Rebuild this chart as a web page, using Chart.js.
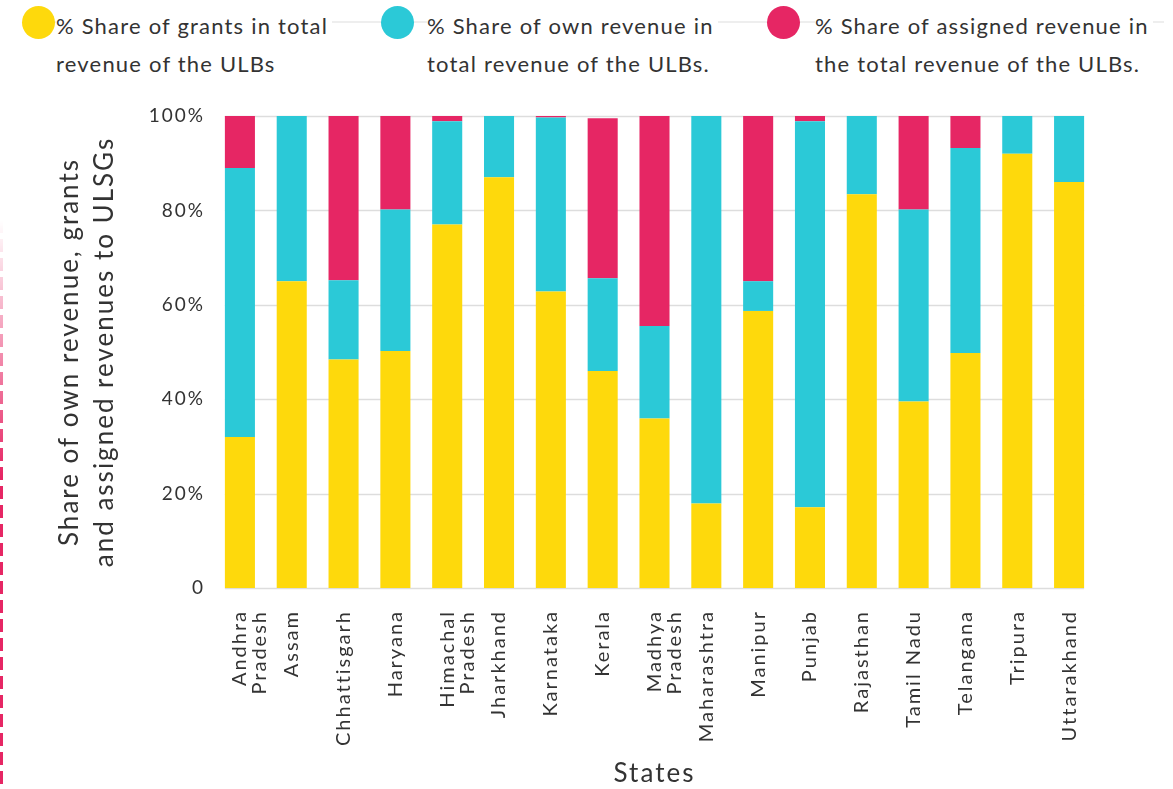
<!DOCTYPE html>
<html>
<head>
<meta charset="utf-8">
<script src="https://cdn.jsdelivr.net/npm/chart.js@4"></script>
<style>
  html, body { margin: 0; padding: 0; background: #fff; }
  body { width: 1173px; height: 789px; position: relative; overflow: hidden; font-family: Lato, sans-serif; color: #333; }
  #chart-wrap { position: absolute; left: 0; top: 0; width: 1173px; height: 789px; }
  .legend-line { position: absolute; left: 54px; top: 21px; width: 1110px; height: 2px; background: #eeeeee; }
  .legend-item { position: absolute; top: 0; }
  .legend-dot { position: absolute; width: 33px; height: 33px; border-radius: 50%; top: 6px; }
  .legend-text { position: absolute; top: 7px; font-size: 22px; line-height: 38px; letter-spacing: 1.2px; white-space: nowrap; background: #fff; padding-right: 4px; }
  .side-dash { position: absolute; left: 0; top: 220px; width: 3px; height: 569px;
    background: repeating-linear-gradient(to bottom, #e62664 0 13px, transparent 13px 19px);
    -webkit-mask-image: linear-gradient(to bottom, transparent, #000 45%);
    mask-image: linear-gradient(to bottom, transparent, #000 45%); }
</style>
</head>
<body>
<div class="side-dash"></div>
<div class="legend-line"></div>
<div id="legend"></div>
<div id="chart-wrap"><canvas id="revChart" width="1173" height="789"></canvas></div>
<script>
// Datos (porcentaje sobre el total de ingresos)
const states = [
    ['Andhra', 'Pradesh'], 'Assam', 'Chhattisgarh', 'Haryana', ['Himachal', 'Pradesh'],
    'Jharkhand', 'Karnataka', 'Kerala', ['Madhya', 'Pradesh'], 'Maharashtra', 'Manipur',
    'Punjab', 'Rajasthan', 'Tamil Nadu', 'Telangana', 'Tripura', 'Uttarakhand'
];
const grantsShare   = [32.0, 65.0, 48.4, 50.2, 77.0, 87.0, 62.8, 46.0, 35.9, 17.9, 58.7, 17.1, 83.4, 39.5, 49.8, 92.0, 86.0];
const ownShare      = [57.0, 35.0, 16.8, 30.0, 21.9, 13.0, 36.9, 19.6, 19.6, 82.1, 6.3, 81.8, 16.6, 40.7, 43.4, 8.0, 14.0];
const assignedShare = [11.0, 0, 34.8, 19.8, 1.1, 0, 0.3, 33.9, 44.5, 0, 35.0, 1.1, 0, 19.8, 6.8, 0, 0];
const yTicks = [0, 20, 40, 60, 80, 100];

const seriesNames = [
    ['% Share of grants in total', 'revenue of the ULBs'],
    ['% Share of own revenue in', 'total revenue of the ULBs.'],
    ['% Share of assigned revenue in', 'the total revenue of the ULBs.']
];
const seriesColors = ['#fed90c', '#2bc9d7', '#e62664'];

const FONT = 'Lato, sans-serif';
const TEXT = '#333333';

// Leyenda en HTML porque los textos van en dos lineas
function renderLegend() {
    const legend = document.getElementById('legend');
    const dotX = [22, 381, 767];
    const textX = [56, 427, 815];
    seriesNames.forEach((name, i) => {
        const item = document.createElement('div');
        item.className = 'legend-item';
        item.innerHTML = `<div class="legend-dot" style="left:${dotX[i]}px;background:${seriesColors[i]}"></div>
            <div class="legend-text" style="left:${textX[i]}px">${name.join('<br>')}</div>`;
        legend.appendChild(item);
    });
}

// Se abre un poco el espaciado de letras para parecerse a la fuente original
// (se vuelve a poner antes de medir y de pintar porque el canvas se reinicia)
const spacingPlugin = {
    id: 'letterSpacing',
    beforeLayout(chart) { chart.ctx.letterSpacing = '2px'; },
    beforeDraw(chart) { chart.ctx.letterSpacing = '2px'; }
};

// Las lineas de la cuadricula solo van desde la primera barra hasta la ultima
const gridPlugin = {
    id: 'barGrid',
    beforeDatasetsDraw(chart) {
        const meta = chart.getDatasetMeta(0);
        const first = meta.data[0];
        const last = meta.data[meta.data.length - 1];
        const x0 = first.x - first.width / 2;
        const x1 = last.x + last.width / 2;
        const ctx = chart.ctx;
        ctx.save();
        ctx.strokeStyle = '#dddddd';
        ctx.lineWidth = 1.5;
        yTicks.forEach(t => {
            const y = Math.round(chart.scales.y.getPixelForValue(t)) + 0.5;
            ctx.beginPath();
            ctx.moveTo(x0, y);
            ctx.lineTo(x1, y);
            ctx.stroke();
        });
        ctx.restore();
    }
};

function renderChart() {
    const ctx = document.getElementById('revChart').getContext('2d');
    const values = [grantsShare, ownShare, assignedShare];
    new Chart(ctx, {
        type: 'bar',
        data: {
            labels: states,
            datasets: values.map((data, i) => ({
                label: seriesNames[i].join(' '),
                data: data,
                backgroundColor: seriesColors[i],
                borderWidth: 0,
                barPercentage: 0.58,
                categoryPercentage: 1
            }))
        },
        options: {
            responsive: false,
            animation: false,
            layout: { padding: { top: 116, left: 0, right: 78, bottom: 0 } },
            plugins: { legend: { display: false }, tooltip: { enabled: false } },
            scales: {
                x: {
                    stacked: true,
                    grid: { display: false },
                    border: { display: false },
                    ticks: {
                        maxRotation: 90, minRotation: 90, autoSkip: false,
                        padding: 14,
                        color: TEXT,
                        font: { family: FONT, size: 20, lineHeight: 1.0 }
                    },
                    title: {
                        display: true, text: 'States', color: TEXT,
                        font: { family: FONT, size: 26 },
                        padding: { top: 0, bottom: 0 }
                    },
                    afterFit(scale) { scale.height = 201; }
                },
                y: {
                    stacked: true,
                    min: 0, max: 100,
                    afterBuildTicks(scale) { scale.ticks = yTicks.map(v => ({ value: v })); },
                    grid: { display: false },
                    border: { display: false },
                    ticks: {
                        padding: 1,
                        color: TEXT,
                        font: { family: FONT, size: 19 },
                        callback: v => v === 0 ? '0' : v + '%'
                    },
                    title: {
                        display: true,
                        text: ['Share of own revenue, grants', 'and assigned revenues to ULSGs'],
                        color: TEXT,
                        font: { family: FONT, size: 26, lineHeight: 1.35 },
                        padding: { top: 52, bottom: 0 }
                    },
                    afterFit(scale) { scale.width = 214; }
                }
            }
        },
        plugins: [spacingPlugin, gridPlugin]
    });
}

renderLegend();
renderChart();
</script>
</body>
</html>
